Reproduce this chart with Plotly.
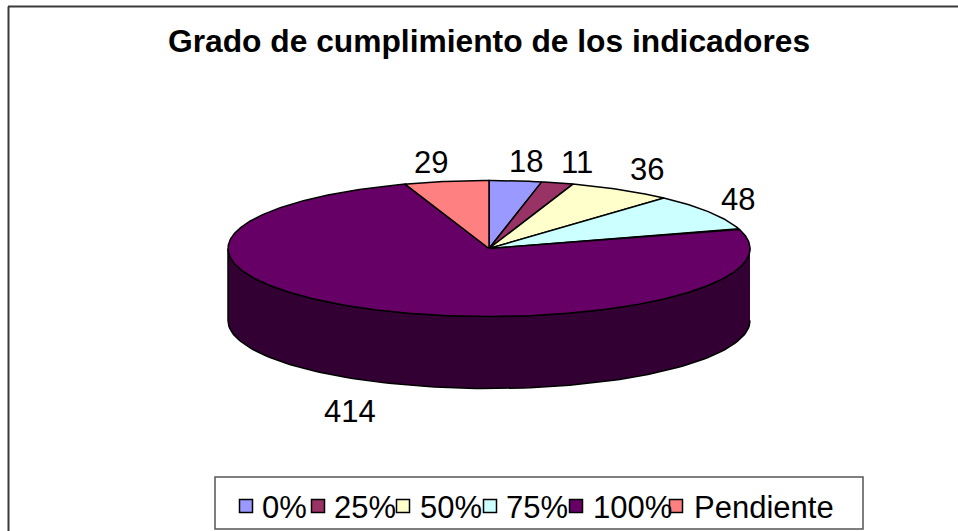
import numpy as np
import plotly.graph_objects as go

categories = ["0%", "25%", "50%", "75%", "100%", "Pendiente"]
values = [18, 11, 36, 48, 414, 29]
colors = ["#9999FF", "#993366", "#FFFFCC", "#CCFFFF", "#660066", "#FF8080"]
wall_color = "#330033"
title = "Grado de cumplimiento de los indicadores"

W, H = 958, 531
CX, CY, RX, RY, DEPTH = 489, 248.5, 261, 68, 72
LABEL_OFFSETS = [(10, -19), (19, -20), (26, -20), (29, -13), (-20, 103), (-15, -19)]
FONT = "Liberation Sans, Arial, sans-serif"
LEGEND_SWATCH_X = [246, 318, 403, 490, 576, 676]
LEGEND_TEXT_X = [260, 332, 418, 504, 591, 692]
LEGEND_SWATCH_Y = 506
LEGEND_TEXT_Y = 507


def rim(deg):
    t = np.radians(deg)
    return CX + RX * np.sin(t), CY - RY * np.cos(t)


fig = go.Figure()

# Side wall of the disc (front half only)
t = np.linspace(90, 270, 121)
xt, yt = rim(t)
fig.add_trace(go.Scatter(
    x=np.concatenate([xt, xt[::-1]]),
    y=np.concatenate([yt, yt[::-1] + DEPTH]),
    mode="lines", fill="toself", fillcolor=wall_color,
    line=dict(color="black", width=1.5), hoverinfo="skip", showlegend=False))

edges = np.concatenate([[0], np.cumsum(values)]) / sum(values) * 360
annotations = []
for i, (cat, val, col) in enumerate(zip(categories, values, colors)):
    a = np.linspace(edges[i], edges[i + 1], max(4, int(edges[i + 1] - edges[i]) * 2))
    x, y = rim(a)
    fig.add_trace(go.Scatter(
        x=np.concatenate([[CX], x, [CX]]),
        y=np.concatenate([[CY], y, [CY]]),
        mode="lines", fill="toself", fillcolor=col,
        line=dict(color="black", width=1.5),
        name=cat, text=f"{cat}: {val}", hoverinfo="text", showlegend=False))
    mx, my = rim((edges[i] + edges[i + 1]) / 2)
    dx, dy = LABEL_OFFSETS[i]
    annotations.append(dict(x=mx + dx, y=my + dy, text=str(val), showarrow=False,
                            xanchor="center", yanchor="middle",
                            font=dict(family=FONT, size=31, color="black")))
    annotations.append(dict(x=LEGEND_TEXT_X[i], y=LEGEND_TEXT_Y, text=cat, showarrow=False,
                            xanchor="left", yanchor="middle",
                            font=dict(family=FONT, size=31, color="black")))

annotations.append(dict(x=CX, y=41, text=f"<b>{title}</b>", showarrow=False,
                        xanchor="center", yanchor="middle",
                        font=dict(family=FONT, size=31.75, color="black")))

fig.add_trace(go.Scatter(
    x=LEGEND_SWATCH_X, y=[LEGEND_SWATCH_Y] * 6, mode="markers",
    marker=dict(symbol="square", size=13, color=colors, line=dict(color="black", width=1.5)),
    hoverinfo="skip", showlegend=False))

shapes = [
    dict(type="line", x0=8.5, x1=8.5, y0=6.5, y1=H, line=dict(color="#3a3a3a", width=2)),
    dict(type="line", x0=8, x1=W, y0=6.5, y1=6.5, line=dict(color="#3a3a3a", width=2)),
    dict(type="rect", x0=215, x1=863, y0=477, y1=529, line=dict(color="#555555", width=1.5),
         fillcolor="white", layer="below"),
]

fig.update_layout(
    width=W, height=H, margin=dict(l=0, r=0, t=0, b=0),
    paper_bgcolor="white", plot_bgcolor="white",
    xaxis=dict(range=[0, W], visible=False, fixedrange=True),
    yaxis=dict(range=[H, 0], visible=False, fixedrange=True),
    shapes=shapes, annotations=annotations, showlegend=False,
)
fig.write_html("out.html", config={"displayModeBar": False},
               post_script="document.body.style.margin='0';document.documentElement.style.overflow='hidden';")
